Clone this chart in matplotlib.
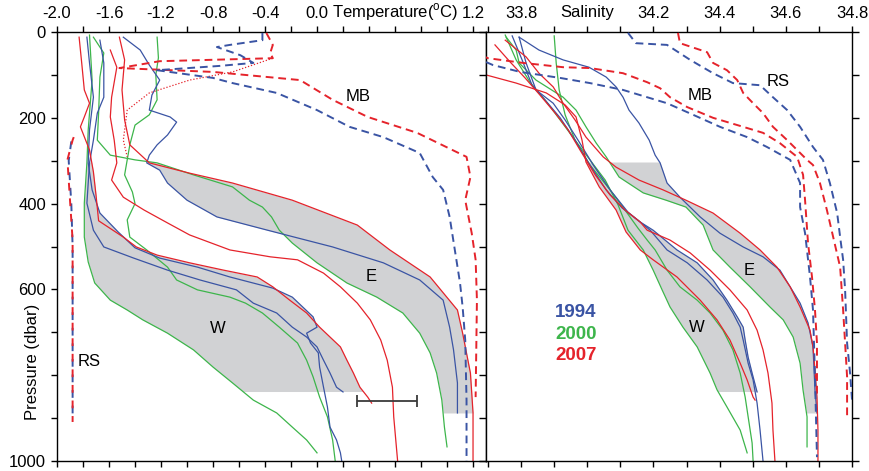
import numpy as np
import matplotlib.pyplot as plt
from matplotlib.ticker import FixedLocator, FixedFormatter, MultipleLocator

plt.rcParams['font.family'] = ['Liberation Sans', 'DejaVu Sans']
plt.rcParams['mathtext.fontset'] = 'custom'
plt.rcParams['mathtext.rm'] = 'Liberation Sans'
plt.rcParams['font.size'] = 12

BLUE = '#3a54a4'
GREEN = '#3db54b'
RED = '#e5232b'
SHADE = '#d1d2d4'

# ---- temperature profiles: (pressure dbar, temperature degC) ----
temp_w1 = [(7, -1.75), (112, -1.73), (228, -1.76), (305, -1.77), (399, -1.79), (478, -1.79),
           (536, -1.76), (585, -1.71), (625, -1.59), (648, -1.46), (671, -1.34), (702, -1.15),
           (741, -0.95), (781, -0.80), (818, -0.65), (858, -0.49), (888, -0.31), (921, -0.19),
           (951, -0.08), (981, 0.0)]
temp_w2 = [(12, -1.23), (60, -1.22), (100, -1.24), (158, -1.23), (193, -1.29), (217, -1.40),
           (263, -1.44), (333, -1.48), (373, -1.42), (400, -1.40), (438, -1.46), (478, -1.44),
           (508, -1.31), (548, -1.15), (578, -1.08), (601, -0.92), (618, -0.67), (632, -0.55),
           (655, -0.42), (688, -0.29), (725, -0.15), (765, -0.08), (804, -0.03), (851, 0.02),
           (897, 0.08), (951, 0.12), (1000, 0.14)]
temp_w3a = [(12, -1.77), (72, -1.75), (152, -1.72), (228, -1.75), (305, -1.76), (368, -1.73),
            (422, -1.67), (466, -1.53), (503, -1.40), (527, -1.21), (548, -0.92), (571, -0.67),
            (597, -0.34), (618, -0.19), (664, -0.03), (688, 0.0), (702, -0.08), (725, -0.05),
            (748, 0.01), (781, 0.02), (828, 0.05), (874, 0.08), (921, 0.10), (951, 0.15),
            (981, 0.18), (1000, 0.19)]
temp_w3b = [(19, -1.67), (72, -1.64), (152, -1.64), (189, -1.69), (252, -1.72), (305, -1.75),
            (399, -1.77), (462, -1.72), (501, -1.64), (527, -1.41), (555, -1.15), (578, -0.90),
            (601, -0.62), (632, -0.49), (655, -0.31), (688, -0.19), (711, -0.08), (734, 0.0),
            (765, 0.05), (795, 0.10), (828, 0.15), (839, 0.20)]
temp_w4 = [(12, -1.83), (72, -1.81), (135, -1.79), (166, -1.75), (198, -1.79), (221, -1.82),
           (275, -1.75), (326, -1.72), (380, -1.70), (440, -1.68), (478, -1.49), (501, -1.39),
           (520, -1.23), (538, -0.98), (555, -0.72), (571, -0.46), (594, -0.34), (625, -0.21),
           (655, -0.08), (688, 0.02), (711, 0.10), (734, 0.18), (765, 0.23), (795, 0.28),
           (828, 0.33), (851, 0.39), (865, 0.42)]
temp_e1 = [(12, -1.52), (65, -1.48), (135, -1.50), (205, -1.48), (263, -1.44), (305, -1.29),
           (329, -0.98), (352, -0.65), (392, -0.19), (450, 0.31), (508, 0.56), (571, 0.87),
           (648, 1.08), (702, 1.12), (795, 1.18), (888, 1.20), (1000, 1.20)]
temp_e2 = [(12, -1.49), (42, -1.36), (77, -1.29), (112, -1.21), (147, -1.27), (182, -1.29),
           (198, -1.13), (210, -1.08), (240, -1.15), (263, -1.23), (287, -1.29), (305, -1.31),
           (322, -1.21), (352, -1.15), (392, -1.00), (431, -0.77), (462, -0.38), (501, 0.12),
           (538, 0.51), (578, 0.79), (625, 0.97), (688, 1.02), (741, 1.05), (818, 1.08),
           (888, 1.08)]
temp_e3 = [(12, -1.72), (49, -1.64), (105, -1.67), (189, -1.68), (252, -1.69), (287, -1.59),
           (298, -1.40), (305, -1.23), (333, -0.95), (361, -0.65), (392, -0.52), (408, -0.42),
           (431, -0.35), (462, -0.29), (492, -0.19), (538, 0.0), (585, 0.23), (618, 0.46),
           (655, 0.66), (702, 0.79), (748, 0.87), (795, 0.92), (858, 0.96), (921, 0.98),
           (967, 1.0)]
temp_e4 = [(42, -1.59), (82, -1.54), (152, -1.58), (198, -1.59), (252, -1.56), (305, -1.54),
           (345, -1.58), (385, -1.49), (415, -1.33), (445, -1.15), (473, -0.98), (508, -0.67),
           (524, -0.36), (531, -0.15), (562, 0.05), (594, 0.18), (632, 0.31), (671, 0.41),
           (718, 0.49), (765, 0.54), (828, 0.58), (897, 0.59), (1000, 0.62)]
temp_mb_red = [(2, -0.39), (30, -0.34), (49, -0.36), (61, -0.34), (68, -1.21), (84, -1.52),
               (93, -0.80), (112, -0.13), (158, 0.12), (198, 0.39), (235, 0.77), (291, 1.15),
               (338, 1.18), (392, 1.14), (469, 1.19), (531, 1.22), (625, 1.23), (851, 1.22)]
temp_mb_blue = [(2, -0.42), (19, -0.42), (30, -0.67), (35, -0.77), (54, -0.59), (72, -0.49),
                (79, -0.75), (89, -1.23), (107, -0.80), (119, -0.65), (142, -0.31), (182, 0.0),
                (221, 0.25), (245, 0.51), (282, 0.79), (338, 0.89), (368, 0.97), (431, 1.02),
                (508, 1.06), (585, 1.10), (641, 1.12), (718, 1.14), (858, 1.15), (1000, 1.15)]
temp_rs_red = [(228, -1.85), (252, -1.88), (298, -1.92), (392, -1.90), (485, -1.88),
               (671, -1.88), (909, -1.88)]
temp_rs_blue = [(255, -1.89), (300, -1.91), (400, -1.89), (500, -1.88), (700, -1.88),
                (905, -1.88)]
temp_dot_red = [(61, -0.34), (93, -0.65), (112, -0.98), (142, -1.29), (182, -1.46),
                (252, -1.49), (291, -1.46)]

# ---- salinity profiles: (pressure dbar, salinity) ----
sal_w1 = [(7, 33.752), (65, 33.785), (117, 33.827), (159, 33.873), (205, 33.918), (252, 33.963),
          (298, 34.008), (345, 34.054), (403, 34.093), (462, 34.123), (508, 34.169),
          (555, 34.199), (601, 34.226), (641, 34.25), (688, 34.289), (734, 34.332),
          (795, 34.371), (834, 34.392), (874, 34.422), (928, 34.462), (981, 34.483)]
sal_w2 = [(9, 33.90), (72, 33.906), (135, 33.915), (193, 33.933), (252, 33.963), (310, 34.008),
          (368, 34.069), (415, 34.114), (457, 34.153), (485, 34.181), (508, 34.205),
          (555, 34.241), (594, 34.28), (625, 34.332), (655, 34.371), (695, 34.41),
          (741, 34.44), (795, 34.462), (851, 34.477), (897, 34.486), (958, 34.498),
          (1000, 34.501)]
sal_w3a = [(12, 33.794), (72, 33.815), (135, 33.845), (166, 33.897), (205, 33.933),
           (252, 33.972), (310, 34.018), (368, 34.069), (420, 34.123), (443, 34.16),
           (462, 34.19), (508, 34.241), (538, 34.302), (578, 34.362), (618, 34.41),
           (655, 34.44), (688, 34.462), (718, 34.471), (772, 34.486), (811, 34.501),
           (865, 34.513), (928, 34.522), (1000, 34.531)]
sal_w3b = [(9, 33.773), (65, 33.803), (124, 33.833), (159, 33.873), (200, 33.918),
           (252, 33.963), (310, 34.008), (368, 34.057), (410, 34.105), (443, 34.16),
           (462, 34.199), (508, 34.271), (538, 34.332), (578, 34.38), (625, 34.422),
           (664, 34.453), (688, 34.471), (718, 34.477), (758, 34.486), (795, 34.498),
           (839, 34.513)]
sal_w4 = [(100, 33.694), (119, 33.785), (142, 33.876), (170, 33.933), (198, 33.966),
          (252, 33.984), (303, 33.996), (361, 34.036), (415, 34.087), (466, 34.117),
          (508, 34.16), (531, 34.199), (571, 34.271), (625, 34.341), (671, 34.392),
          (718, 34.431), (772, 34.462), (811, 34.483), (851, 34.501), (858, 34.507)]
sal_e1 = [(19, 33.752), (58, 33.815), (96, 33.854), (128, 33.897), (166, 33.927),
          (205, 33.963), (245, 33.996), (291, 34.048), (315, 34.087), (345, 34.156),
          (368, 34.229), (392, 34.298), (422, 34.38), (469, 34.462), (508, 34.522),
          (548, 34.573), (594, 34.613), (641, 34.643), (695, 34.673), (734, 34.682),
          (788, 34.688), (851, 34.694), (928, 34.697), (1000, 34.697)]
sal_e2 = [(12, 33.794), (42, 33.854), (65, 33.927), (82, 34.005), (105, 34.057), (128, 34.087),
          (152, 34.108), (182, 34.126), (212, 34.156), (252, 34.187), (287, 34.205),
          (305, 34.22), (352, 34.241), (385, 34.28), (431, 34.341), (469, 34.401),
          (501, 34.471), (524, 34.531), (555, 34.582), (594, 34.613), (632, 34.643),
          (678, 34.667), (734, 34.682), (835, 34.688), (888, 34.694)]
sal_e3 = [(12, 33.755), (42, 33.785), (72, 33.794), (112, 33.845), (152, 33.927),
          (182, 33.966), (221, 33.996), (259, 34.027), (291, 34.057), (338, 34.096),
          (375, 34.169), (392, 34.238), (408, 34.298), (450, 34.35), (508, 34.38),
          (548, 34.431), (594, 34.492), (641, 34.552), (671, 34.592), (711, 34.622),
          (772, 34.643), (835, 34.652), (897, 34.664), (967, 34.664)]
sal_e4 = [(30, 33.721), (70, 33.767), (107, 33.812), (147, 33.857), (189, 33.903),
          (228, 33.942), (275, 33.978), (333, 34.024), (380, 34.069), (415, 34.114),
          (443, 34.16), (462, 34.181), (485, 34.25), (515, 34.311), (555, 34.371),
          (601, 34.431), (648, 34.483), (695, 34.513), (741, 34.531), (795, 34.546),
          (865, 34.558), (928, 34.561), (1000, 34.567)]
sal_mb_red = [(55, 33.68), (61, 33.70), (72, 33.806), (82, 33.927), (84, 34.008), (96, 34.108),
              (117, 34.181), (131, 34.22), (152, 34.25), (175, 34.302), (200, 34.38),
              (221, 34.471), (235, 34.531), (259, 34.582), (291, 34.634), (333, 34.652),
              (392, 34.658), (492, 34.667), (571, 34.679), (648, 34.688), (725, 34.694),
              (851, 34.694)]
sal_mb_blue = [(70, 33.694), (77, 33.715), (93, 33.797), (107, 33.918), (119, 34.008),
               (135, 34.108), (152, 34.181), (166, 34.241), (193, 34.32), (221, 34.401),
               (245, 34.483), (268, 34.543), (298, 34.613), (352, 34.643), (408, 34.643),
               (469, 34.658), (571, 34.673), (648, 34.682), (804, 34.688), (991, 34.694)]
sal_rs_red = [(2, 34.274), (26, 34.28), (47, 34.362), (72, 34.38), (89, 34.422), (112, 34.453),
              (142, 34.471), (166, 34.501), (189, 34.531), (221, 34.561), (252, 34.604),
              (275, 34.634), (298, 34.664), (310, 34.682), (352, 34.703), (415, 34.724),
              (478, 34.743), (548, 34.764), (648, 34.773), (725, 34.779), (804, 34.785),
              (904, 34.785)]
sal_rs_blue = [(2, 34.123), (26, 34.147), (30, 34.241), (65, 34.311), (96, 34.38),
               (119, 34.44), (124, 34.522), (152, 34.561), (182, 34.604), (221, 34.643),
               (268, 34.682), (298, 34.712), (352, 34.733), (422, 34.755), (478, 34.764),
               (531, 34.773), (601, 34.779), (725, 34.785), (795, 34.794), (858, 34.80)]

pressure_ticks = [0, 200, 400, 600, 800, 1000]
# the 800 label sits under the axis title, so it is left blank
pressure_labels = ['0', '200', '400', '600', '', '1000']

# shaded envelopes: pressure range of the W and E groups
w_range = (303, 838)
e_range = (303, 888)

# instrument uncertainty bar on the temperature panel
err_temp, err_pres, err_half = 0.54, 860, 0.23


def draw(ax, prof, color, **kw):
    p, v = np.array(prof).T
    ax.plot(v, p, color=color, **kw)


def envelope(ax, group, prange):
    grid = np.linspace(prange[0], prange[1], 300)
    vals = []
    for prof in group:
        p, v = np.array(prof).T
        vals.append(np.interp(grid, p, v, left=np.nan, right=np.nan))
    vals = np.array(vals)
    ax.fill_betweenx(grid, np.nanmin(vals, 0), np.nanmax(vals, 0),
                     color=SHADE, lw=0, zorder=0)


def profiles(ax, w1, w2, w3a, w3b, w4, e1, e2, e3, e4):
    envelope(ax, [w1, w3a, w3b, w4], w_range)
    envelope(ax, [e1, e2, e3], e_range)
    kw = dict(lw=0.9, zorder=2)
    for prof, c in [(w1, GREEN), (w2, GREEN), (e3, GREEN),
                    (w3a, BLUE), (w3b, BLUE), (e2, BLUE),
                    (w4, RED), (e1, RED), (e4, RED)]:
        draw(ax, prof, c, **kw)


def dashed(ax, prof, color, pattern):
    p, v = np.array(prof).T
    ax.plot(v, p, color=color, lw=1.4, linestyle=pattern, zorder=3)


fig = plt.figure(figsize=(8.69, 4.71), dpi=100)
ax_t = fig.add_axes([0.0656, 0.0212, 0.4937, 0.9108])
ax_s = fig.add_axes([0.5593, 0.0212, 0.4212, 0.9108])

# temperature panel
profiles(ax_t, temp_w1, temp_w2, temp_w3a, temp_w3b, temp_w4,
         temp_e1, temp_e2, temp_e3, temp_e4)
draw(ax_t, temp_dot_red, RED, lw=0.9, linestyle=(0, (1, 1.5)))
dashed(ax_t, temp_mb_red, RED, (0, (4, 2.5)))
dashed(ax_t, temp_mb_blue, BLUE, (0, (4, 2.5)))
dashed(ax_t, temp_rs_blue, BLUE, (0, (4, 4)))
dashed(ax_t, temp_rs_red, RED, (4, (4, 4)))
ax_t.errorbar(err_temp, err_pres, xerr=err_half, fmt='none', ecolor='#3a3a3a',
              elinewidth=1.3, capsize=4, capthick=1.3, zorder=4)

ax_t.set_xlim(-2.0, 1.3)
ax_t.set_ylim(1000, 0)
t_ticks = np.round(np.arange(-2.0, 1.21, 0.2), 1)
t_labels = ['-2.0', '', '-1.6', '', '-1.2', '', '-0.8', '', '-0.4', '', '0.0',
            '', '', '', '', '', '1.2']
ax_t.xaxis.set_major_locator(FixedLocator(t_ticks))
ax_t.xaxis.set_major_formatter(FixedFormatter(t_labels))
ax_t.tick_params(axis='x', top=True, bottom=True, labeltop=True, labelbottom=False,
                 direction='out', length=4, width=1, pad=4)
ax_t.yaxis.set_major_locator(FixedLocator(pressure_ticks))
ax_t.yaxis.set_major_formatter(FixedFormatter(pressure_labels))
ax_t.yaxis.set_minor_locator(FixedLocator([100, 300, 500, 700, 900]))
ax_t.tick_params(axis='y', which='both', left=True, right=False, direction='out',
                 length=4.5, width=1)
ax_t.text(-0.058, 0.23, 'Pressure (dbar)', transform=ax_t.transAxes, rotation=90,
          ha='center', va='center', fontsize=12)
ax_t.annotate(r'Temperature($^{\rm o}$C)', xy=(0.6, 1.0),
              xycoords=('data', 'axes fraction'), xytext=(0, 14),
              textcoords='offset points', ha='center', va='center', fontsize=12)
ax_t.text(0.32, 151, 'MB', ha='center', va='center', fontsize=12)
ax_t.text(0.42, 571, 'E', ha='center', va='center', fontsize=12)
ax_t.text(-0.76, 690, 'W', ha='center', va='center', fontsize=12)
ax_t.text(-1.75, 769, 'RS', ha='center', va='center', fontsize=12)

# salinity panel
profiles(ax_s, sal_w1, sal_w2, sal_w3a, sal_w3b, sal_w4,
         sal_e1, sal_e2, sal_e3, sal_e4)
dashed(ax_s, sal_mb_red, RED, (0, (4, 2.5)))
dashed(ax_s, sal_mb_blue, BLUE, (0, (4, 2.5)))
dashed(ax_s, sal_rs_red, RED, (0, (4, 2.5)))
dashed(ax_s, sal_rs_blue, BLUE, (0, (4, 2.5)))

ax_s.set_xlim(33.694, 34.8)
ax_s.set_ylim(1000, 0)
s_ticks = np.round(np.arange(33.7, 34.81, 0.1), 1)
s_labels = ['', '33.8', '', '', '', '34.2', '', '34.4', '', '34.6', '', '34.8']
ax_s.xaxis.set_major_locator(FixedLocator(s_ticks))
ax_s.xaxis.set_major_formatter(FixedFormatter(s_labels))
ax_s.tick_params(axis='x', top=True, bottom=True, labeltop=True, labelbottom=False,
                 direction='out', length=4, width=1, pad=4)
ax_s.yaxis.set_major_locator(MultipleLocator(100))
ax_s.tick_params(axis='y', left=True, right=False, labelleft=False, direction='in',
                 length=5, width=1)
ax_s.tick_params(axis='y', right=True, direction='out', length=5, width=1)
ax_s.annotate('Salinity', xy=(34.0, 1.0), xycoords=('data', 'axes fraction'),
              xytext=(0, 14), textcoords='offset points', ha='center', va='center',
              fontsize=12)
ax_s.text(34.341, 147, 'MB', ha='center', va='center', fontsize=12)
ax_s.text(34.576, 116, 'RS', ha='center', va='center', fontsize=12)
ax_s.text(34.49, 555, 'E', ha='center', va='center', fontsize=12)
ax_s.text(34.332, 688, 'W', ha='center', va='center', fontsize=12)
for year, c, p in [('1994', BLUE, 653), ('2000', GREEN, 704), ('2007', RED, 753)]:
    ax_s.text(33.966, p, year, color=c, ha='center', va='center', fontsize=13.5,
              fontweight='bold')

for ax in (ax_t, ax_s):
    for sp in ax.spines.values():
        sp.set_linewidth(1.0)

fig.savefig('out.png', dpi=100)
